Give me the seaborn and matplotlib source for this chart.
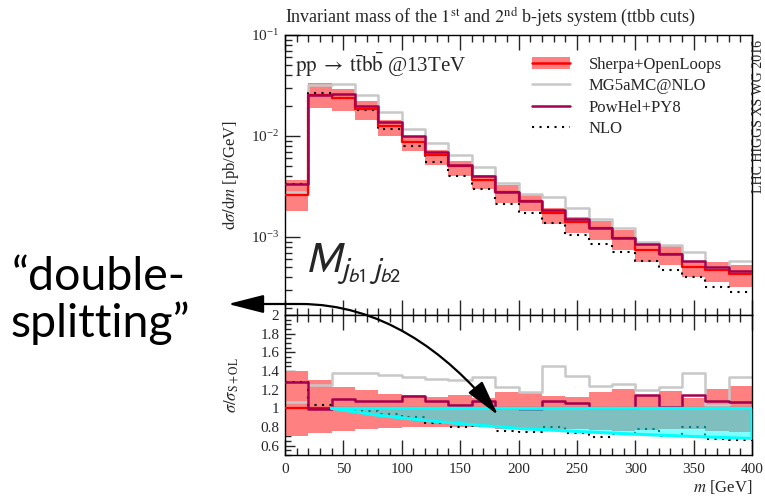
import numpy as np
import matplotlib
matplotlib.use("Agg")
import matplotlib.pyplot as plt
import seaborn as sns
from matplotlib.path import Path
from matplotlib.patches import FancyArrowPatch, Patch
from matplotlib.lines import Line2D
from matplotlib.ticker import MultipleLocator, FuncFormatter, LogLocator

# ---------------------------------------------------------------- data
# bin edges of the invariant mass of the two leading b-jets [GeV]
edges = np.arange(0, 401, 20)

# Sherpa+OpenLoops central prediction, dsigma/dm [pb/GeV]
sherpa = [2.6e-3, 2.55e-2, 2.36e-2, 1.85e-2, 1.26e-2, 8.8e-3, 6.5e-3, 5.0e-3, 3.7e-3, 2.8e-3,
          2.28e-3, 1.72e-3, 1.42e-3, 1.22e-3, 9.8e-4, 7.4e-4, 6.8e-4, 5.1e-4, 4.7e-4, 4.3e-4]

# everything below is relative to Sherpa+OpenLoops
sherpa_hi = [1.40, 1.30, 1.23, 1.20, 1.155, 1.14, 1.125, 1.14, 1.11, 1.18,
             1.16, 1.13, 1.12, 1.18, 1.21, 1.13, 1.19, 1.11, 1.21, 1.24]
sherpa_lo = [0.70, 0.74, 0.755, 0.78, 0.79, 0.80, 0.80, 0.80, 0.80, 0.78,
             0.79, 0.78, 0.78, 0.77, 0.755, 0.77, 0.78, 0.78, 0.755, 0.745]
mg5_ratio = [1.07, 1.25, 1.38, 1.38, 1.36, 1.34, 1.31, 1.30, 1.34, 1.23,
             1.18, 1.45, 1.35, 1.24, 1.26, 1.20, 1.23, 1.38, 1.04, 1.34]
powhel_ratio = [1.28, 0.995, 1.095, 1.08, 1.08, 1.13, 1.08, 1.04, 1.075, 1.005,
                0.995, 1.075, 1.055, 1.0, 1.005, 1.14, 1.01, 1.14, 1.075, 1.065]
nlo_ratio = [1.28, 1.04, 1.0, 0.975, 0.94, 0.905, 0.845, 0.80, 0.81, 0.76,
             0.75, 0.80, 0.735, 0.695, 0.72, 0.775, 0.70, 0.795, 0.675, 0.665]

# highlighted "double-splitting" region of the ratio panel
ds_m = [40, 80, 120, 160, 200, 250, 300, 350, 400]
ds_lo = [1.0, 0.925, 0.87, 0.825, 0.785, 0.752, 0.723, 0.698, 0.677]

# ---------------------------------------------------------------- style
sns.set_style("ticks")
plt.rcParams["font.family"] = ["Liberation Serif", "DejaVu Serif"]
plt.rcParams["mathtext.fontset"] = "stix"

PINK = "#ff8080"
RED = "#ff0000"
GREY = "#c8c8c8"
PURPLE = "#a3004f"
NLO_DASH = (0, (1, 2.6))

W, H = 765, 499


def fx(px):
    return px / W


def fy(py):
    return 1 - py / H


def steps(vals):
    vals = np.asarray(vals, dtype=float)
    return np.append(vals, vals[-1])


def draw_step(ax, vals, **kw):
    sns.lineplot(x=edges, y=steps(vals), drawstyle="steps-post", ax=ax,
                 legend=False, errorbar=None, **kw)


fig = plt.figure(figsize=(W / 100, H / 100), dpi=100)
L, R = fx(285), fx(752)
ax = fig.add_axes([L, fy(315), R - L, fy(35) - fy(315)])
axr = fig.add_axes([L, fy(455), R - L, fy(315) - fy(455)], sharex=ax)

sh = np.asarray(sherpa)

# ---------------------------------------------------------------- main panel
ax.fill_between(edges, steps(sh * np.asarray(sherpa_lo)), steps(sh * np.asarray(sherpa_hi)),
                step="post", color=PINK, lw=0, zorder=1)
draw_step(ax, sh * np.asarray(mg5_ratio), color=GREY, lw=1.8, zorder=2)
draw_step(ax, sh * np.asarray(nlo_ratio), color="black", lw=1.5, linestyle=NLO_DASH, zorder=3)
draw_step(ax, sh, color=RED, lw=1.6, zorder=4)
draw_step(ax, sh * np.asarray(powhel_ratio), color=PURPLE, lw=1.8, zorder=5)

ax.set_yscale("log")
ax.set_ylim(10 ** -3.772, 0.1)
ax.set_xlim(0, 400)
ax.yaxis.set_major_locator(LogLocator(base=10, numticks=10))
ax.yaxis.set_minor_locator(LogLocator(base=10, subs=np.arange(2, 10), numticks=20))
ax.tick_params(which="both", direction="in", top=True, bottom=True, left=True, right=False,
               labelbottom=False, labelsize=11, pad=4)
ax.tick_params(which="major", length=10.5, width=1.0)
ax.tick_params(which="minor", length=5, width=1.0)
ax.set_ylabel(r"$\mathrm{d}\sigma/\mathrm{d}m$ [pb/GeV]", fontsize=12)
ax.yaxis.set_label_coords(-0.094, 0.5)
ax.set_title(r"Invariant mass of the $1^{\mathrm{st}}$ and $2^{\mathrm{nd}}$ b-jets system (ttbb cuts)",
             loc="left", fontsize=13, pad=9.5)

ax.text((295 - 285) / 467, (315 - 72) / 280,
        r"$\mathrm{pp} \;\rightarrow\; \mathrm{t}\bar{\mathrm{t}}\mathrm{b}\bar{\mathrm{b}}$ @13TeV",
        transform=ax.transAxes, fontsize=15, va="baseline", ha="left")
ax.text((305 - 285) / 467, (315 - 272) / 280, r"$M_{j_{b1}\,j_{b2}}$",
        transform=ax.transAxes, fontsize=30, va="baseline", ha="left",
        math_fontfamily="stixsans")

handles = [
    (Patch(facecolor=PINK, edgecolor="none"), Line2D([], [], color=RED, lw=1.8)),
    Line2D([], [], color=GREY, lw=1.8),
    Line2D([], [], color=PURPLE, lw=1.8),
    Line2D([], [], color="black", lw=1.5, linestyle=NLO_DASH),
]
labels = ["Sherpa+OpenLoops", "MG5aMC@NLO", "PowHel+PY8", "NLO"]
ax.legend(handles, labels, loc="upper left", bbox_to_anchor=((532 - 285) / 467, (315 - 57) / 280),
          frameon=False, fontsize=12, handlelength=2.3, handletextpad=1.1,
          labelspacing=0.32, borderpad=0, borderaxespad=0)

# ---------------------------------------------------------------- ratio panel
axr.fill_between(edges, steps(sherpa_lo), steps(sherpa_hi), step="post", color=PINK, lw=0, zorder=1)
draw_step(axr, mg5_ratio, color=GREY, lw=1.8, zorder=2)
draw_step(axr, nlo_ratio, color="black", lw=1.5, linestyle=NLO_DASH, zorder=3)
draw_step(axr, np.ones(len(sherpa)), color=RED, lw=1.6, zorder=4)
draw_step(axr, powhel_ratio, color=PURPLE, lw=1.8, zorder=5)

axr.fill_between(ds_m, ds_lo, 1.0, color="cyan", alpha=0.5, lw=0, zorder=6)
axr.plot(ds_m + [400, 40], ds_lo + [1.0, 1.0], color="cyan", lw=2.2, zorder=7,
         solid_joinstyle="miter")

axr.set_xlim(0, 400)
axr.set_ylim(0.5, 2.0)
axr.xaxis.set_major_locator(MultipleLocator(50))
axr.xaxis.set_minor_locator(MultipleLocator(10))
axr.yaxis.set_major_locator(MultipleLocator(0.2))
axr.yaxis.set_minor_locator(MultipleLocator(0.05))
axr.yaxis.set_major_formatter(FuncFormatter(lambda v, p: f"{v:g}" if v >= 0.55 else ""))
axr.tick_params(which="both", direction="in", top=True, bottom=True, left=True, right=False,
                labelsize=11, pad=4)
axr.tick_params(axis="x", which="major", length=10.5, width=1.0, pad=6)
axr.tick_params(axis="x", which="minor", length=5, width=1.0)
axr.tick_params(axis="y", which="major", length=7, width=1.0)
axr.tick_params(axis="y", which="minor", length=4, width=1.0)
axr.set_ylabel(r"$\sigma/\sigma_{\mathrm{S+OL}}$", fontsize=12)
axr.yaxis.set_label_coords(-0.094, 0.5)
axr.set_xlabel(r"$m$ [GeV]", fontsize=12, loc="right", labelpad=1)

for a in (ax, axr):
    for s in a.spines.values():
        s.set_linewidth(1.0)
        s.set_color("black")

# ---------------------------------------------------------------- annotations
fig.text(fx(758.5), fy(40), "LHC HIGGS XS WG 2016", rotation=90, ha="center", va="top", fontsize=10)

fig.text(fx(12), fy(290), "\u201cdouble-", fontsize=33.5, family=["Lato", "DejaVu Sans"],
         va="baseline", ha="left", color="black")
fig.text(fx(10), fy(337), "splitting\u201d", fontsize=33.5, family=["Lato", "DejaVu Sans"],
         va="baseline", ha="left", color="black")

verts = [(fx(228), fy(304)), (fx(300), fy(304)), (fx(380), fy(304)),
         (fx(445), fy(350)), (fx(498), fy(415))]
codes = [Path.MOVETO, Path.LINETO, Path.CURVE4, Path.CURVE4, Path.CURVE4]
arrow = FancyArrowPatch(path=Path(verts, codes),
                        arrowstyle="<|-|>,head_length=0.55,head_width=0.14",
                        mutation_scale=40, lw=1.6, color="black",
                        transform=fig.transFigure, zorder=10)
fig.add_artist(arrow)

fig.savefig("out.png", dpi=100)
